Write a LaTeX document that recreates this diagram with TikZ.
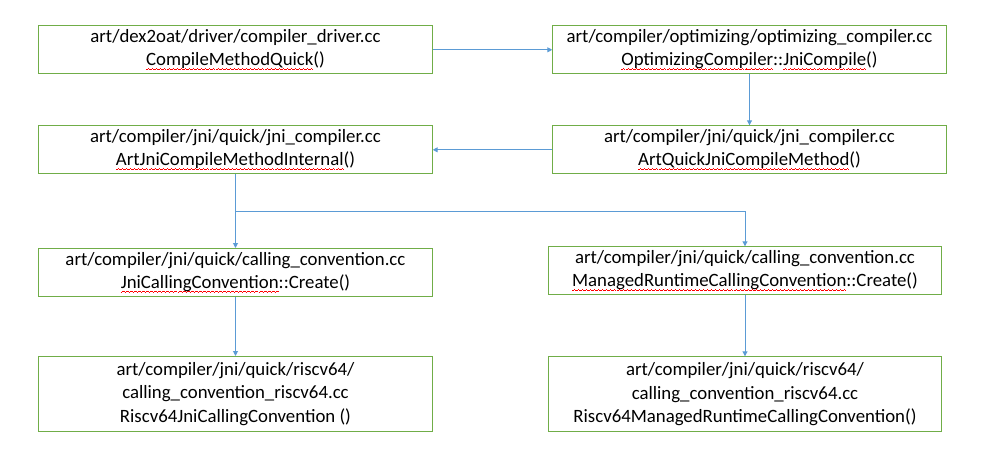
\documentclass[tikz,border=0pt]{standalone}
\usepackage{fontspec}
\setmainfont{Carlito}
\usepackage{xcolor}
\usepackage{tikz}
\usetikzlibrary{arrows.meta,positioning,calc}

\definecolor{boxgreen}{HTML}{70AD47}
\definecolor{linkblue}{HTML}{5B9BD5}
% red spell-check wave, built from small rules
\newcommand{\wavepiece}{\rule[-4pt]{1pt}{0.7pt}\rule[-3.4pt]{1pt}{0.7pt}\rule[-2.8pt]{1pt}{0.7pt}\rule[-3.4pt]{1pt}{0.7pt}}
\newcommand{\spellwave}[1]{\setbox0\hbox{#1}\rlap{\hbox to\wd0{\color{red}\xleaders\hbox{\wavepiece}\hfil}}\box0}

\begin{document}
\begin{tikzpicture}[font=\fontsize{18.8}{23.3}\selectfont,
  fbox/.style={draw=boxgreen, line width=1pt, inner sep=0pt, align=center,
    minimum width=393.4pt, minimum height=48pt},
  tallbox/.style={fbox, minimum height=75pt},
  link/.style={draw=linkblue, line width=1pt, -{Triangle[length=5pt,width=5pt]}}]
  % Nodes
  \node[fbox] (drv) {art/dex2oat/driver/compiler\_driver.cc\\\spellwave{CompileMethodQuick}()};
  \node[fbox, right=119.6pt of drv] (opt) {art/compiler/optimizing/optimizing\_compiler.cc\\\spellwave{OptimizingCompiler}::\spellwave{JniCompile}()};
  \node[fbox, below=51pt of drv] (jnic) {art/compiler/jni/quick/jni\_compiler.cc\\\spellwave{ArtJniCompileMethodInternal}()};
  \node[fbox, below=51pt of opt] (qjni) {art/compiler/jni/quick/jni\_compiler.cc\\\spellwave{ArtQuickJniCompileMethod}()};

  \node[fbox, below=73.7pt of jnic] (jcc) {art/compiler/jni/quick/calling\_convention.cc\\\spellwave{JniCallingConvention}::Create()};
  \node[fbox, minimum width=392.4pt, below=72pt of qjni, xshift=-4.5pt] (mcc) {art/compiler/jni/quick/calling\_convention.cc\\\spellwave{ManagedRuntimeCallingConvention}::Create()};

  \node[tallbox, below=59pt of jcc] (jrv) {art/compiler/jni/quick/riscv64/\\calling\_convention\_riscv64.cc\\Riscv64JniCallingConvention ()};
  \node[tallbox, minimum width=392.4pt, below=61pt of mcc] (mrv) {art/compiler/jni/quick/riscv64/\\calling\_convention\_riscv64.cc\\Riscv64ManagedRuntimeCallingConvention()};

  \useasboundingbox ($(drv.north west)+(-38.3pt,25.3pt)$) rectangle ++(982pt,-463pt);

  % Arrows
  \draw[link] (drv) -- (opt);
  \draw[link] (opt) -- (qjni);
  \draw[link] (qjni) -- (jnic);
  \draw[link] (jnic) -- (jcc);
  \draw[link] (jcc) -- (jrv);
  \draw[link] (mcc) -- (mrv);

  % branch to the managed side
  \coordinate (split) at ($(jnic.south)+(0,-36.7pt)$);
  \draw[link] (split) -| (mcc.north);
\end{tikzpicture}
\end{document}
